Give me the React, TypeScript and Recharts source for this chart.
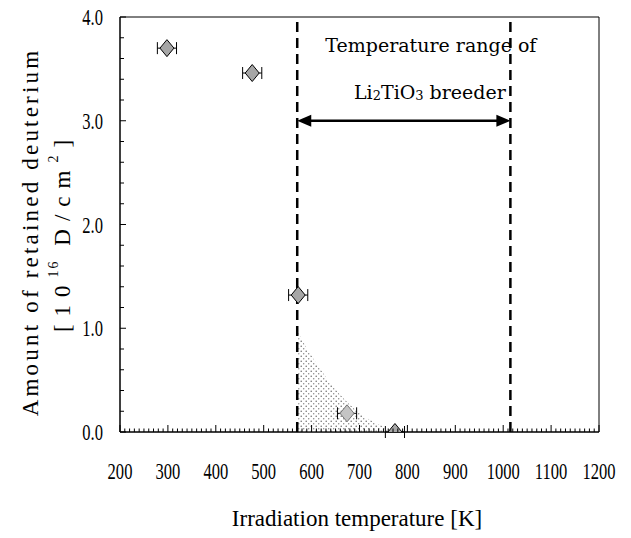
import {
  ComposedChart,
  XAxis,
  YAxis,
  Scatter,
  ErrorBar,
  Area,
  ReferenceLine,
  ReferenceArea,
  ReferenceDot,
  Label,
} from 'recharts';

// measured points: irradiation temperature [K] vs retained deuterium [1e16 D/cm2]
const temperatures = [298, 476, 572, 674, 774];
const retained = [3.7, 3.46, 1.32, 0.18, 0.0];
const tempError = [20, 20, 20, 20, 20];

// dotted region under the curve just above 573 K
const shadeTemps = [572, 603, 638, 674, 707, 742, 775];
const shadeValues = [0.96, 0.71, 0.48, 0.29, 0.16, 0.07, 0.0];

// Li2TiO3 breeder temperature window
const breederLow = 570;
const breederHigh = 1015;
const arrowLevel = 3.0;

const xMajorTicks = [200, 300, 400, 500, 600, 700, 800, 900, 1000, 1100, 1200];
const yMajorTicks = [0, 1, 2, 3, 4];

const xTicks: number[] = [];
for (let t = 200; t <= 1200; t += 10) xTicks.push(t);
const yTicks: number[] = [];
for (let i = 0; i <= 20; i++) yTicks.push(i / 5);

const points = temperatures.map((t, i) => ({ t, d: retained[i], err: tempError[i] }));
const shade = shadeTemps.map((t, i) => ({ t, s: shadeValues[i] }));

const serif = 'Liberation Serif, Times New Roman, serif';
const annoFont = 'DejaVu Serif, serif';

function XTick(props: any) {
  const { x, y, payload } = props;
  const major = xMajorTicks.includes(payload.value);
  return (
    <g>
      <line x1={x} x2={x} y1={y} y2={y - (major ? 7 : 3.5)} stroke="#000" strokeWidth={1} />
      {major && (
        <text
          transform={`translate(${x},${y + 47}) scale(0.72,1)`}
          textAnchor="middle"
          style={{ fontFamily: serif }}
          fontSize={23}
          fill="#000"
        >
          {payload.value}
        </text>
      )}
    </g>
  );
}

function YTick(props: any) {
  const { x, y, payload } = props;
  const v = payload.value;
  const major = yMajorTicks.some((m) => Math.abs(m - v) < 1e-6);
  return (
    <g>
      <line x1={x} x2={x + (major ? 6 : 4)} y1={y} y2={y} stroke="#000" strokeWidth={1} />
      {major && (
        <text
          transform={`translate(${x - 17},${y + 8}) scale(0.72,1)`}
          textAnchor="end"
          style={{ fontFamily: serif }}
          fontSize={23}
          fill="#000"
        >
          {v.toFixed(1)}
        </text>
      )}
    </g>
  );
}

function Diamond(props: any) {
  const { cx, cy, payload } = props;
  const hw = 7;
  const hh = 8.5;
  // the point inside the dotted region shows through the hatch, lighter
  const faded = payload && payload.d > 0 && payload.d < 0.5;
  return (
    <polygon
      points={`${cx},${cy - hh} ${cx + hw},${cy} ${cx},${cy + hh} ${cx - hw},${cy}`}
      fill={faded ? '#c4c4c4' : '#a6a6a6'}
      stroke={faded ? '#777' : '#000'}
      strokeWidth={1}
    />
  );
}

function DoubleArrow(props: any) {
  const { x1, y1, x2 } = props;
  const len = 14;
  const half = 6;
  return (
    <g>
      <line x1={x1 + len - 2} x2={x2 - len + 2} y1={y1} y2={y1} stroke="#000" strokeWidth={2.5} />
      <polygon points={`${x1},${y1} ${x1 + len},${y1 - half} ${x1 + len},${y1 + half}`} fill="#000" />
      <polygon points={`${x2},${y1} ${x2 - len},${y1 - half} ${x2 - len},${y1 + half}`} fill="#000" />
    </g>
  );
}

function YTitle(props: any) {
  return (
    <g style={{ fontFamily: serif }} fill="#000">
      <text
        transform="translate(30,232) rotate(-90)"
        textAnchor="middle"
        dominantBaseline="central"
        fontSize={23}
        letterSpacing={3.2}
      >
        Amount of retained deuterium
      </text>
      <text
        transform="translate(62,232) rotate(-90)"
        textAnchor="middle"
        dominantBaseline="central"
        fontSize={23}
        letterSpacing={8}
      >
        [10<tspan fontSize={14} letterSpacing={2} dy={-9}>16</tspan>
        <tspan dy={9}> D/cm</tspan>
        <tspan fontSize={14} dy={-9}>2</tspan>
        <tspan dy={9}>]</tspan>
      </text>
    </g>
  );
}

function XTitle(props: any) {
  return (
    <text x={357} y={526} textAnchor="middle" style={{ fontFamily: serif }} fontSize={23} fill="#000">
      Irradiation temperature [K]
    </text>
  );
}

function LabelLine1(props: any) {
  const { cx, cy } = props;
  return (
    <text x={cx} y={cy} textAnchor="middle" dominantBaseline="central" style={{ fontFamily: annoFont }} fontSize={19} fill="#000">
      Temperature range of
    </text>
  );
}

function LabelLine2(props: any) {
  const { cx, cy } = props;
  return (
    <text x={cx} y={cy} textAnchor="middle" dominantBaseline="central" style={{ fontFamily: annoFont }} fontSize={19} fill="#000">
      Li<tspan fontSize={13} dy={3}>2</tspan>
      <tspan dy={-3}>TiO</tspan>
      <tspan fontSize={13} dy={3}>3</tspan>
      <tspan dy={-3}> breeder</tspan>
    </text>
  );
}

export default function App() {
  return (
    <div style={{ position: 'absolute', left: 0, top: 0, width: 631, height: 538, background: '#fff' }}>
      <ComposedChart
        width={631}
        height={538}
        margin={{ top: 17, right: 32, left: 60, bottom: 46 }}
      >
        <defs>
          <pattern id="dots" width="5" height="5" patternUnits="userSpaceOnUse">
            <rect width="5" height="5" fill="#fff" fillOpacity={0.45} />
            <circle cx="1.2" cy="1.2" r="0.75" fill="#666" />
            <circle cx="3.7" cy="3.7" r="0.75" fill="#888" />
          </pattern>
        </defs>
        <XAxis
          type="number"
          dataKey="t"
          domain={[200, 1200]}
          ticks={xTicks}
          interval={0}
          tickSize={0}
          tickMargin={0}
          tick={<XTick />}
          axisLine={{ stroke: '#000' }}
          tickLine={false}
          height={60}
          allowDataOverflow
        >
          <Label content={<XTitle />} />
        </XAxis>
        <YAxis
          type="number"
          domain={[0, 4]}
          ticks={yTicks}
          interval={0}
          tickSize={0}
          tickMargin={0}
          tick={<YTick />}
          axisLine={{ stroke: '#000' }}
          tickLine={false}
          width={60}
          allowDataOverflow
        >
          <Label content={<YTitle />} />
        </YAxis>
        <ReferenceArea x1={200} x2={1200} y1={0} y2={4} fill="none" stroke="#000" strokeWidth={1} />
        <ReferenceLine x={breederLow} stroke="#000" strokeWidth={2.5} strokeDasharray="10 6" />
        <ReferenceLine x={breederHigh} stroke="#000" strokeWidth={2.5} strokeDasharray="10 6" />
        <ReferenceLine
          segment={[
            { x: breederLow, y: arrowLevel },
            { x: breederHigh, y: arrowLevel },
          ]}
          shape={<DoubleArrow />}
        />
        <Scatter data={points} dataKey="d" shape={<Diamond />} isAnimationActive={false}>
          <ErrorBar dataKey="err" direction="x" width={6} stroke="#000" strokeWidth={1} />
        </Scatter>
        <Area
          data={shade}
          dataKey="s"
          type="monotone"
          stroke="none"
          fill="url(#dots)"
          fillOpacity={1}
          isAnimationActive={false}
        />
        <ReferenceDot x={849} y={3.73} r={0} shape={<LabelLine1 />} />
        <ReferenceDot x={847} y={3.28} r={0} shape={<LabelLine2 />} />
      </ComposedChart>
    </div>
  );
}
